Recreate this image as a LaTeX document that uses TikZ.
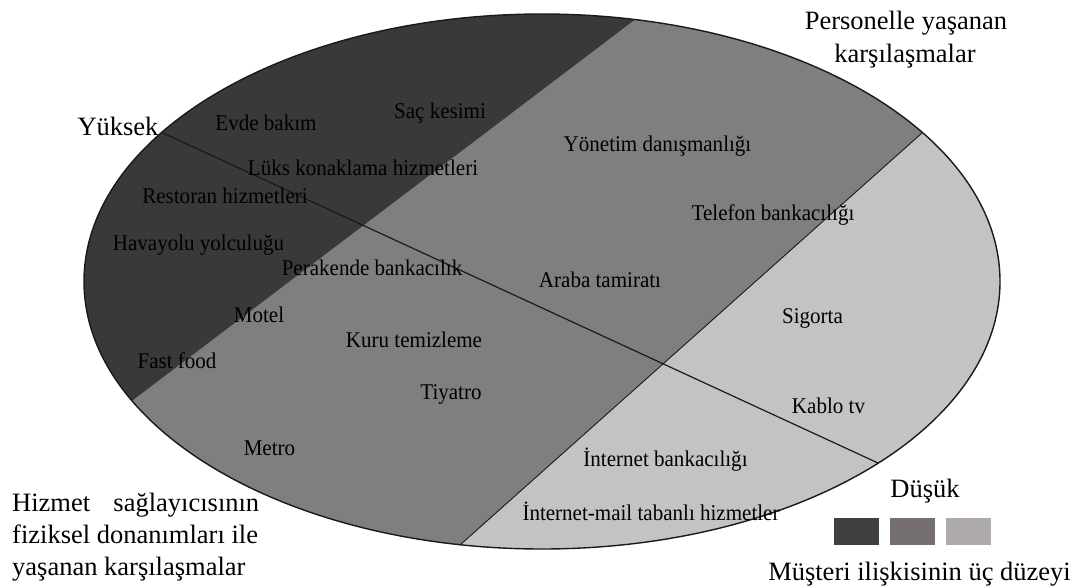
\documentclass[tikz,border=0pt]{standalone}
\usepackage{fontspec}
\setmainfont{Liberation Serif}
% slightly narrowed face for the service names
\newfontfamily\servicefont[FakeStretch=0.935]{Liberation Serif}

% fills of the three relationship levels and their key squares
\definecolor{zoneHigh}{HTML}{393939}
\definecolor{zoneMid}{HTML}{7F7F7F}
\definecolor{zoneLow}{HTML}{C3C3C3}
\definecolor{keyHigh}{HTML}{404040}
\definecolor{keyMid}{HTML}{75706F}
\definecolor{keyLow}{HTML}{AEAAA9}
\definecolor{edge}{HTML}{1A1A1A}

\begin{document}
\begin{tikzpicture}[x=1pt,y=-1pt,
  item/.style={font=\servicefont\fontsize{22.5}{27}\selectfont, inner sep=0pt, anchor=base},
  heading/.style={font=\fontsize{26.5}{32}\selectfont, inner sep=0pt, anchor=base},
  keybox/.style={minimum width=45pt, minimum height=27pt, inner sep=0pt, draw=none},
  outline/.style={draw=edge, line width=1.4pt},
  divider/.style={draw=edge, line width=1.2pt}]
\useasboundingbox (0,0) rectangle (1078,587);

% centre of the oval and the end points of the three dividing lines
\coordinate (c)  at (542,281.5);
\coordinate (d1) at (637,18);    % dark / medium boundary
\coordinate (d2) at (133,400);
\coordinate (m1) at (922,133);   % medium / light boundary
\coordinate (m2) at (460,545);
\coordinate (hi) at (163,133);   % Yüksek -- Düşük axis
\coordinate (lo) at (878,463);

% the three zones
\fill[zoneLow] (c) ellipse [x radius=458pt, y radius=267.5pt];
\begin{scope}
  \clip (c) ellipse [x radius=458pt, y radius=267.5pt];
  \fill[zoneMid] (1384,-279) -- (-2,957) -- (-300,957) -- (-300,-300) -- (1384,-300) -- cycle;
  \fill[zoneHigh] (1141,-364) -- (-371,782) -- (-400,-400) -- cycle;
\end{scope}
\draw[draw=edge, line width=0.9pt] (m1) -- (m2);
\draw[divider] (hi) -- (lo);
\draw[outline] (c) ellipse [x radius=458pt, y radius=267.5pt];

% services placed in the oval
\node[item] (evde)   at (266,130)   {Evde bakım};
\node[item] (sac)    at (440,118)   {Saç kesimi};
\node[item] (luks)   at (363,175)   {Lüks konaklama hizmetleri};
\node[item] (rest)   at (225,203)   {Restoran hizmetleri};
\node[item] (hava)   at (198.5,250) {Havayolu yolculuğu};
\node[item] (perak)  at (372,275)   {Perakende bankacılık};
\node[item] (yonet)  at (657.5,151) {Yönetim danışmanlığı};
\node[item] (telef)  at (773,220)   {Telefon bankacılığı};
\node[item] (araba)  at (600,287.5) {Araba tamiratı};
\node[item] (motel)  at (259,322)   {Motel};
\node[item] (kuru)   at (414,347)   {Kuru temizleme};
\node[item] (fast)   at (177,368.5) {Fast food};
\node[item] (tiya)   at (451,399)   {Tiyatro};
\node[item] (metro)  at (269.5,455) {Metro};
\node[item] (sigor)  at (812.5,323) {Sigorta};
\node[item] (kablo)  at (828.5,413) {Kablo tv};
\node[item] (inetb)  at (665.5,466) {İnternet bankacılığı};
\node[item] (inetm)  at (651,520)   {İnternet-mail tabanlı hizmetler};

% axis ends and zone titles
\node[heading] (yuksek) at (118,135)  {Yüksek};
\node[heading] (dusuk)  at (925,497)  {Düşük};
\node[heading] (pers1)  at (906,29.5) {Personelle yaşanan};
\node[heading] (pers2)  at (905,62)   {karşılaşmalar};
\node[heading, anchor=base west] (hz1) at (12,511)
  {\hbox to 247pt{Hizmet\hfill sağlayıcısının}};
\node[heading, anchor=base west] (hz2) at (12,543) {fiziksel donanımları ile};
\node[heading, anchor=base west] (hz3) at (12,575) {yaşanan karşılaşmalar};

% key
\node[keybox, fill=keyHigh] (k1) at (856.5,531.5) {};
\node[keybox, fill=keyMid]  (k2) at (912.5,531.5) {};
\node[keybox, fill=keyLow]  (k3) at (968.5,531.5) {};
\node[heading] (keytitle) at (919.5,580) {Müşteri ilişkisinin üç düzeyi};
\end{tikzpicture}
\end{document}
